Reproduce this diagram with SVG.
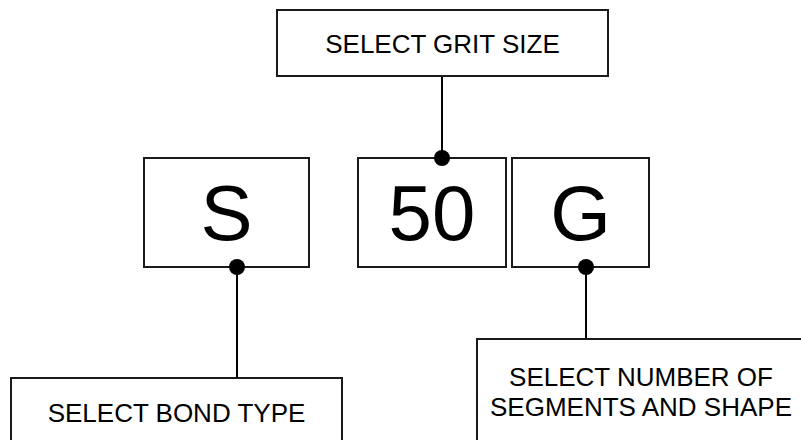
<svg xmlns="http://www.w3.org/2000/svg" width="801" height="440" viewBox="0 0 801 440">
<style>
.box{fill:#fff;stroke:#1a1a1a;stroke-width:2}
.t{font-family:"Liberation Sans",Arial,sans-serif;font-size:26px;fill:#000;text-anchor:middle}
.big{font-family:"Liberation Sans",Arial,sans-serif;font-size:78px;fill:#000;text-anchor:middle}
.ln{stroke:#000;stroke-width:2;fill:none}
.dot{fill:#000}
</style>
<rect width="801" height="440" fill="#fff"/>
<g id="connectors">
<line class="ln" x1="442" y1="76" x2="442" y2="158"/>
<line class="ln" x1="237" y1="267" x2="237" y2="378"/>
<line class="ln" x1="586" y1="267" x2="586" y2="339"/>
</g>
<g id="grit-size">
<rect class="box" x="277" y="10" width="331" height="66"/>
<text class="t" x="442.5" y="53">SELECT GRIT SIZE</text>
</g>
<g id="s">
<rect class="box" x="144" y="158" width="165" height="109"/>
<text class="big" x="226.5" y="240">S</text>
</g>
<g id="n50">
<rect class="box" x="358" y="158" width="148" height="109"/>
<text class="big" x="432" y="240">50</text>
</g>
<g id="g">
<rect class="box" x="512" y="158" width="137" height="109"/>
<text class="big" x="580.5" y="240">G</text>
</g>
<g id="bond-type">
<rect class="box" x="11" y="378" width="331" height="70"/>
<text class="t" x="176.5" y="422">SELECT BOND TYPE</text>
</g>
<g id="segments">
<rect class="box" x="477" y="339" width="330" height="110"/>
<text class="t" x="641" y="386">SELECT NUMBER OF</text>
<text class="t" x="641" y="416">SEGMENTS AND SHAPE</text>
</g>
<g id="dots">
<circle class="dot" cx="442" cy="158" r="8"/>
<circle class="dot" cx="237" cy="267" r="8"/>
<circle class="dot" cx="586" cy="267" r="8"/>
</g>
</svg>
